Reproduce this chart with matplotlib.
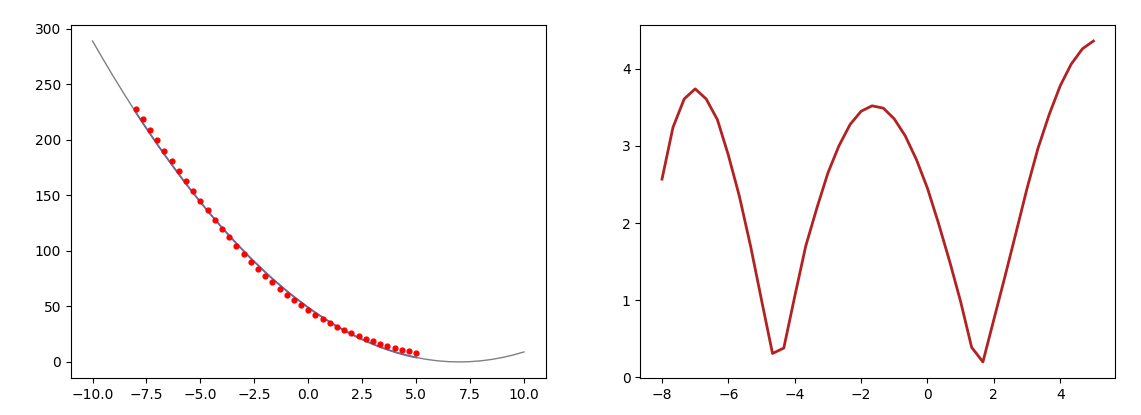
"""
plot.py -- quadratic fit to sample points (left) and absolute fit error (right).
"""
import matplotlib
matplotlib.use("Agg")
import matplotlib.pyplot as plt

# smooth fitted curve over the full range
curve_x = [-10.0, -9.5, -9.0, -8.5, -8.0, -7.5, -7.0, -6.5, -6.0, -5.5, -5.0,
           -4.5, -4.0, -3.5, -3.0, -2.5, -2.0, -1.5, -1.0, -0.5, 0.0,
           0.5, 1.0, 1.5, 2.0, 2.5, 3.0, 3.5, 4.0, 4.5, 5.0,
           5.5, 6.0, 6.5, 7.0, 7.5, 8.0, 8.5, 9.0, 9.5, 10.0]
curve_y = [289.0, 272.25, 256.0, 240.25, 225.0, 210.25, 196.0, 182.25, 169.0, 156.25, 144.0,
           132.25, 121.0, 110.25, 100.0, 90.25, 81.0, 72.25, 64.0, 56.25, 49.0,
           42.25, 36.0, 30.25, 25.0, 20.25, 16.0, 12.25, 9.0, 6.25, 4.0,
           2.25, 1.0, 0.25, 0.0, 0.25, 1.0, 2.25, 4.0, 6.25, 9.0]

# sample points
pts_x = [-8.0, -7.67, -7.33, -7.0, -6.67, -6.33, -6.0, -5.67, -5.33, -5.0,
         -4.67, -4.33, -4.0, -3.67, -3.33, -3.0, -2.67, -2.33, -2.0, -1.67,
         -1.33, -1.0, -0.67, -0.33, 0.0, 0.33, 0.67, 1.0, 1.33, 1.67,
         2.0, 2.33, 2.67, 3.0, 3.33, 3.67, 4.0, 4.33, 4.67, 5.0]
pts_y = [227.6, 218.4, 209.1, 199.7, 190.4, 181.1, 171.9, 162.8, 153.8, 145.0,
         136.4, 128.1, 120.0, 112.1, 104.6, 97.4, 90.4, 83.8, 77.6, 71.6,
         66.0, 60.7, 55.7, 51.0, 46.6, 42.4, 38.6, 35.0, 31.7, 28.6,
         25.8, 23.1, 20.7, 18.5, 16.4, 14.5, 12.8, 11.2, 9.7, 8.4]
# fitted values at the sample points
fit_y = [225.0, 215.1, 205.4, 196.0, 186.8, 177.8, 169.0, 160.4, 152.1, 144.0,
         136.1, 128.4, 121.0, 113.8, 106.8, 100.0, 93.4, 87.1, 81.0, 75.1,
         69.4, 64.0, 58.8, 53.8, 49.0, 44.4, 40.1, 36.0, 32.1, 28.4,
         25.0, 21.8, 18.8, 16.0, 13.4, 11.1, 9.0, 7.1, 5.4, 4.0]
# absolute error |sample - fit|
abs_err = [2.57, 3.24, 3.61, 3.74, 3.61, 3.34, 2.88, 2.35, 1.70, 1.00,
           0.31, 0.38, 1.05, 1.70, 2.20, 2.65, 3.00, 3.28, 3.45, 3.52,
           3.49, 3.35, 3.13, 2.82, 2.45, 2.00, 1.50, 0.98, 0.39, 0.20,
           0.75, 1.30, 1.88, 2.45, 2.97, 3.41, 3.78, 4.06, 4.26, 4.36]

fig, (ax1, ax2) = plt.subplots(1, 2, figsize=(11.41, 4.15), dpi=100)
fig.subplots_adjust(left=0.0622, right=0.9772, bottom=0.0892, top=0.9398, wspace=0.2)

ax1.plot(curve_x, curve_y, color="gray", lw=1)
ax1.plot(pts_x, fit_y, color="#6a6a9c", lw=1.3)
ax1.scatter(pts_x, pts_y, color="red", s=12, zorder=3)

ax2.plot(pts_x, abs_err, color="firebrick", lw=2)

fig.savefig("out.png", dpi=100)
